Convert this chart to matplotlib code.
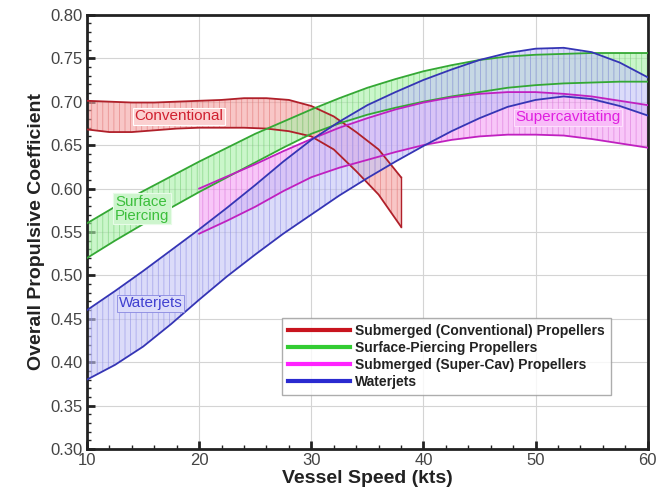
import numpy as np
import matplotlib.pyplot as plt
from matplotlib.ticker import MultipleLocator

plt.rcParams['font.family'] = ['Liberation Sans', 'DejaVu Sans']
plt.rcParams['hatch.linewidth'] = 0.6

# vessel speed (kts) and efficiency bands
conv_x = [10, 12, 14, 16, 18, 20, 22, 24, 26, 28, 30, 32, 34, 36, 38]
conv_hi = [0.701, 0.700, 0.699, 0.699, 0.700, 0.701, 0.702, 0.704, 0.704, 0.702,
           0.695, 0.683, 0.665, 0.645, 0.613]
conv_lo = [0.668, 0.665, 0.665, 0.667, 0.669, 0.670, 0.670, 0.670, 0.669, 0.666,
           0.660, 0.645, 0.620, 0.593, 0.556]

surf_x = [10, 12.5, 15, 17.5, 20, 22.5, 25, 27.5, 30, 32.5, 35, 37.5, 40,
          42.5, 45, 47.5, 50, 52.5, 55, 57.5, 60]
surf_hi = [0.560, 0.579, 0.597, 0.614, 0.631, 0.647, 0.663, 0.677, 0.691, 0.704,
           0.716, 0.726, 0.735, 0.742, 0.748, 0.752, 0.754, 0.755, 0.756, 0.756, 0.756]
surf_lo = [0.520, 0.540, 0.559, 0.578, 0.596, 0.613, 0.630, 0.647, 0.663, 0.675,
           0.685, 0.693, 0.700, 0.706, 0.711, 0.716, 0.719, 0.721, 0.722, 0.723, 0.723]

scav_x = [20, 22.5, 25, 27.5, 30, 32.5, 35, 37.5, 40, 42.5, 45, 47.5, 50,
          52.5, 55, 57.5, 60]
scav_hi = [0.600, 0.614, 0.628, 0.643, 0.657, 0.670, 0.681, 0.691, 0.699, 0.705,
           0.709, 0.711, 0.711, 0.709, 0.706, 0.701, 0.696]
scav_lo = [0.548, 0.563, 0.579, 0.597, 0.613, 0.624, 0.633, 0.642, 0.650, 0.656,
           0.660, 0.662, 0.662, 0.661, 0.657, 0.652, 0.647]

wj_x = [10, 12.5, 15, 17.5, 20, 22.5, 25, 27.5, 30, 32.5, 35, 37.5, 40,
        42.5, 45, 47.5, 50, 52.5, 55, 57.5, 60]
wj_hi = [0.460, 0.482, 0.505, 0.529, 0.553, 0.578, 0.604, 0.631, 0.656, 0.677,
         0.696, 0.711, 0.725, 0.737, 0.748, 0.756, 0.761, 0.762, 0.757, 0.745, 0.728]
wj_lo = [0.380, 0.397, 0.418, 0.444, 0.472, 0.499, 0.524, 0.548, 0.570, 0.592,
         0.612, 0.631, 0.649, 0.666, 0.681, 0.694, 0.702, 0.706, 0.703, 0.695, 0.684]

bands = [
    ('Submerged (Conventional) Propellers', conv_x, conv_lo, conv_hi,
     '#f4a0a0', '#e07070', '#b0202a', '#c8141e'),
    ('Surface-Piercing Propellers', surf_x, surf_lo, surf_hi,
     '#a8f0a8', '#70cc70', '#34a834', '#33cc33'),
    ('Submerged (Super-Cav) Propellers', scav_x, scav_lo, scav_hi,
     '#f4a0f4', '#d870d8', '#c020c0', '#ff22ff'),
    ('Waterjets', wj_x, wj_lo, wj_hi,
     '#c4c4f6', '#8a8ae4', '#3535b5', '#2a2ad0'),
]

fig = plt.figure(figsize=(6.59, 4.93), dpi=100)
ax = fig.add_axes([0.132, 0.089, 0.851, 0.881])

for name, x, lo, hi, face, hatch_c, edge, leg_c in bands:
    ax.fill_between(x, lo, hi, facecolor=face, edgecolor=hatch_c, hatch='|||',
                    linewidth=0, alpha=0.6, zorder=2)

for name, x, lo, hi, face, hatch_c, edge, leg_c in bands:
    ax.plot(x, hi, color=edge, lw=1.3, zorder=3)
    ax.plot(x, lo, color=edge, lw=1.3, zorder=3)
    # closing edge at the end of the conventional band
    if x[-1] < 60:
        ax.plot([x[-1], x[-1]], [lo[-1], hi[-1]], color=edge, lw=1.0, zorder=3)
    ax.plot([], [], color=leg_c, lw=3, label=name)

# band labels
ax.text(18.2, 0.683, 'Conventional', color='#d02030', fontsize=11,
        ha='center', va='center', zorder=5,
        bbox=dict(facecolor='#fbd0d0', edgecolor='white', pad=1.2, lw=0.8))
ax.text(12.5, 0.577, 'Surface\nPiercing', color='#3cbf3c', fontsize=10.8,
        ha='left', va='center', linespacing=1.0, zorder=5,
        bbox=dict(facecolor='#cdf5cd', edgecolor='#e8fbe8', pad=1.2, lw=0.8))
ax.text(15.7, 0.468, 'Waterjets', color='#4040d0', fontsize=11,
        ha='center', va='center', zorder=5,
        bbox=dict(facecolor='#dcdcfa', edgecolor='#8888e0', pad=1.2, lw=0.6))
ax.text(52.9, 0.682, 'Supercavitating', color='#e020e0', fontsize=11,
        ha='center', va='center', zorder=5,
        bbox=dict(facecolor='#f8bcf8', edgecolor='#fde0fd', pad=1.2, lw=0.8))

ax.set_xlim(10, 60)
ax.set_ylim(0.30, 0.80)
ax.xaxis.set_major_locator(MultipleLocator(10))
ax.xaxis.set_minor_locator(MultipleLocator(2))
ax.yaxis.set_major_locator(MultipleLocator(0.05))
ax.yaxis.set_minor_locator(MultipleLocator(0.01))
ax.yaxis.set_major_formatter(plt.FormatStrFormatter('%.2f'))
ax.tick_params(which='major', direction='in', length=6, width=2, pad=3,
               labelsize=12, labelcolor='#444444', color='#222222')
ax.tick_params(which='minor', direction='in', length=3, width=1, color='#222222')
ax.grid(True, which='major', color='#d4d4d4', lw=0.8, zorder=0)
ax.set_axisbelow(True)
for sp in ax.spines.values():
    sp.set_linewidth(2)
    sp.set_color('#222222')

ax.set_xlabel('Vessel Speed (kts)', fontsize=14, fontweight='bold',
              color='#222222', labelpad=1)
ax.set_ylabel('Overall Propulsive Coefficient', fontsize=14, fontweight='bold',
              color='#222222', labelpad=4)

leg = ax.legend(loc='upper left', bbox_to_anchor=(0.347, 0.302),
                prop={'weight': 'bold', 'size': 10}, frameon=True, fancybox=False,
                handlelength=4.5, handletextpad=0.3, labelspacing=0.2,
                borderpad=0.45, borderaxespad=0)
leg.get_frame().set_edgecolor('#999999')
leg.get_frame().set_linewidth(1)
leg.set_zorder(6)
for t in leg.get_texts():
    t.set_color('#222222')

fig.savefig('out.png', dpi=100)
